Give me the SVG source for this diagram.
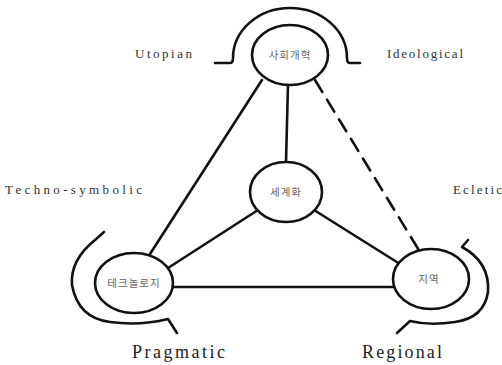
<svg xmlns="http://www.w3.org/2000/svg" width="502" height="365" viewBox="0 0 502 365">
<style>
.ln{fill:none;stroke:#111;stroke-width:2.6;stroke-linecap:round;stroke-linejoin:round}
.dash{stroke-dasharray:14 9}
.nd{fill:#fff;stroke:#111;stroke-width:2.6}
.ko{font-family:"Noto Sans CJK KR","Noto Sans",sans-serif;font-size:10.5px;fill:#666;text-anchor:middle;letter-spacing:1px}
.lb{font-family:"Liberation Serif","DejaVu Serif",serif;font-size:13px;fill:#333}
.big{font-family:"Liberation Serif","DejaVu Serif",serif;font-size:18px;fill:#222}
</style>
<rect width="502" height="365" fill="#fff"/>
<g id="connectors">
<line class="ln" x1="262" y1="80" x2="150" y2="254"/>
<line class="ln dash" x1="315" y1="80" x2="420" y2="252"/>
<line class="ln" x1="288" y1="84" x2="286" y2="162"/>
<line class="ln" x1="258" y1="210" x2="168" y2="268"/>
<line class="ln" x1="314" y1="210" x2="400" y2="264"/>
<line class="ln" x1="173" y1="287" x2="393" y2="287"/>
</g>
<g id="brackets">
<path class="ln" d="M 215 63 L 230 63 Q 233 63 233 58 A 57 50 0 0 1 347 58 Q 347 63 350 63 L 360 63"/>
<path class="ln" d="M 104 232 L 95 240 Q 70 260 72 285 Q 78 318 110 322 Q 140 326 168 319 L 177 333"/>
<path class="ln" d="M 468 240 L 462 247 Q 490 262 488 292 Q 484 318 455 322 Q 430 326 410 321 L 397 333"/>
</g>
<g id="node-top">
<ellipse class="nd" cx="290" cy="55" rx="38" ry="30"/>
<text class="ko" x="290" y="59">사회개혁</text>
</g>
<g id="node-center">
<ellipse class="nd" cx="286" cy="192" rx="36" ry="30"/>
<text class="ko" x="286" y="196">세계화</text>
</g>
<g id="node-left">
<ellipse class="nd" cx="134" cy="283" rx="39" ry="30"/>
<text class="ko" x="134" y="287">테크놀로지</text>
</g>
<g id="node-right">
<ellipse class="nd" cx="431" cy="279" rx="38" ry="30"/>
<text class="ko" x="429" y="283">지역</text>
</g>
<g id="labels">
<text class="lb" x="135" y="58" textLength="57" lengthAdjust="spacing">Utopian</text>
<text class="lb" x="387" y="58" textLength="76" lengthAdjust="spacing">Ideological</text>
<text class="lb" x="5" y="194" textLength="137" lengthAdjust="spacing">Techno-symbolic</text>
<text class="lb" x="453" y="194" textLength="49" lengthAdjust="spacing">Ecletic</text>
<text class="big" x="132" y="358" textLength="93" lengthAdjust="spacing">Pragmatic</text>
<text class="big" x="362" y="358" textLength="80" lengthAdjust="spacing">Regional</text>
</g>
</svg>
